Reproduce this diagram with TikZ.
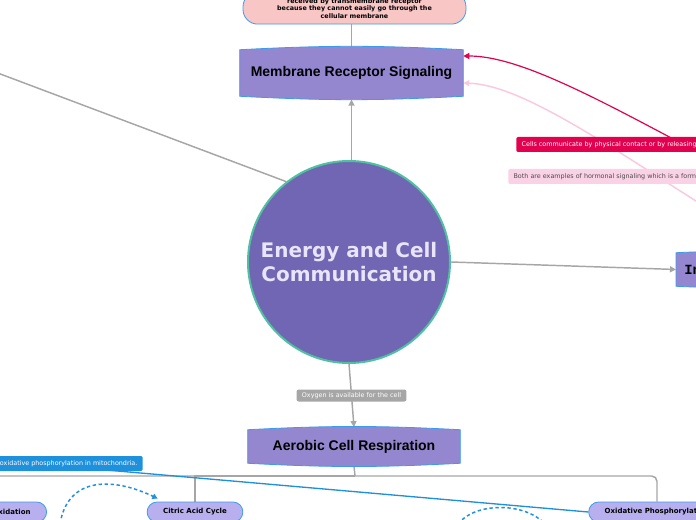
\documentclass[tikz,border=0pt]{standalone}
\usepackage{fontspec}
\usepackage{tikz}
\usetikzlibrary{arrows.meta,positioning,calc,backgrounds}
\setmainfont{DejaVu Sans}
\newfontfamily\hdfont{Liberation Sans}
\newfontfamily\ttbold{Liberation Mono}
\definecolor{hubfill}{HTML}{7066B3}
\definecolor{hubline}{HTML}{4FC1A0}
\definecolor{hubtext}{HTML}{E8E4FA}
\definecolor{topicfill}{HTML}{9487D0}
\definecolor{edgeblue}{HTML}{3D9BE9}
\definecolor{pillfill}{HTML}{B8B0EE}
\definecolor{notefill}{HTML}{F9C6C6}
\definecolor{linkgray}{HTML}{A6A6A6}
\definecolor{crimson}{HTML}{E2004F}
\definecolor{blush}{HTML}{F9C9DF}
\definecolor{blushfill}{HTML}{FAD2E6}
\definecolor{skyblue}{HTML}{1E90DC}
\pgfdeclarelayer{links}
\pgfsetlayers{links,background,main}
\tikzset{
  hub/.style={circle, fill=hubfill, draw=hubline, line width=1.5pt, minimum size=151.5pt, align=center, text=hubtext, font=\fontsize{15}{18}\selectfont\bfseries},
  topic/.style={inner sep=0pt, font=\hdfont\fontsize{10.5}{12}\selectfont\bfseries},
  wavy/.style={fill=topicfill, draw=edgeblue, line width=0.6pt},
  pill/.style={rounded corners=7.5pt, fill=pillfill, draw=edgeblue, line width=0.6pt, minimum height=15pt, inner xsep=12pt, inner ysep=0pt, font=\fontsize{5.25}{6}\selectfont\bfseries},
  note/.style={rounded corners=11pt, fill=notefill, draw=edgeblue, line width=0.6pt, align=center, inner xsep=8pt, inner ysep=4.5pt, font=\fontsize{4.8}{5.6}\selectfont\bfseries},
  lbl/.style={rounded corners=1.5pt, inner xsep=4pt, inner ysep=0pt, minimum height=11.25pt, text=white, font=\fontsize{4.8}{5.6}\selectfont},
  link/.style={draw=linkgray, line width=1.1pt},
  tip/.style={-{Triangle[length=4.5pt,width=4.5pt]}},
  flow/.style={draw=skyblue, line width=1.1pt, dash pattern=on 2.5pt off 2pt}
}
\newcommand{\wavybox}[1]{%
  \begin{pgfonlayer}{background}
    \path[wavy] (#1.north west) to[bend left=3] (#1.north east) -- (#1.south east) to[bend left=3] (#1.south west) -- cycle;
  \end{pgfonlayer}}

\begin{document}
\begin{tikzpicture}[x=0.75pt, y=-0.75pt]
\useasboundingbox (0,0) rectangle (696,520);
\clip (0,0) rectangle (696,520);
\node[hub] (centre) at (349,262) {Energy and Cell\\Communication};
\node[topic, minimum width=167.25pt, minimum height=34.5pt] (mem) at (351.5,73) {Membrane Receptor Signaling};
\node[topic, minimum width=159pt, minimum height=24.75pt] (aer) at (354,446.5) {Aerobic Cell Respiration};
\node[topic, font=\ttbold\fontsize{10.5}{12}\selectfont\bfseries, anchor=west, minimum height=24.75pt, inner xsep=6pt, text width=33pt, align=left] (intra) at (676,269.5) {In};
\wavybox{mem}
\wavybox{aer}
\wavybox{intra}
\node[note, anchor=south, minimum width=167.25pt] (recv) at (354.5,24.5) {received by transmembrane receptor\\because they cannot easily go through the\\cellular membrane};
\node[pill] (citric) at (195,512) {Citric Acid Cycle};
\node[pill] (oxphos) at (657,512) {Oxidative Phosphorylation};
\node[pill, anchor=east] (pyrox) at (47,512) {Oxidation};
\node[lbl, fill=crimson, anchor=west] (contact) at (516,144.5) {Cells communicate by physical contact or by releasing};
\node[lbl, fill=blushfill, text=black!70, anchor=west] (hormone) at (508,176.5) {Both are examples of hormonal signaling which is a form};
\node[lbl, fill=skyblue, anchor=east] (mito) at (143,463.5) {oxidative phosphorylation in mitochondria.};
\coordinate (offleft) at (-5,72);
\coordinate (contactsrc) at (705,156);
\coordinate (hormsrc) at (710,210);
\coordinate (fork) at (355,476);
\coordinate (treeleft) at (-5,476);
\coordinate (mitosrc) at (60,466);
\coordinate (loopa) at (60,524);
\coordinate (loopc) at (458,524);
\coordinate (loopd) at (545,524);
\begin{pgfonlayer}{links}
\draw[link] (offleft) -- (centre.128);
\draw[link] (recv.south -| mem.north) -- (mem.north);
\draw[link, tip] (mem.south |- centre.north) -- ([yshift=-2.5pt]mem.south);
\draw[link, tip] (centre.east) -- (intra.west);
\draw[link, tip] (centre.south) -- node[lbl, fill=linkgray, minimum height=9pt] (oxygen) {Oxygen is available for the cell} ([yshift=2pt]aer.north);
\draw[link] ([yshift=-2pt]aer.south) -- (fork);
\draw[link, rounded corners=4pt] (treeleft) -- (fork) -| (oxphos.north);
\draw[link] (citric.north) |- (fork);
\draw[crimson, line width=0.9pt, tip] (contactsrc) .. controls (600,100) and (520,56) .. ([yshift=12.75pt]mem.east);
\draw[blush, line width=1.1pt, tip] (hormsrc) .. controls (600,140) and (520,85) .. ([yshift=-7.5pt]mem.east);
\draw[skyblue, line width=1pt] (mitosrc) -- (oxphos.west);
\draw[flow, -{Triangle[length=4pt,width=4pt]}] (loopa) .. controls (68,475) and (115,478) .. ([xshift=8.25pt,yshift=2.25pt]citric.north west);
\draw[flow] (loopc) .. controls (475,502) and (525,502) .. (loopd);
\end{pgfonlayer}
\end{tikzpicture}
\end{document}
